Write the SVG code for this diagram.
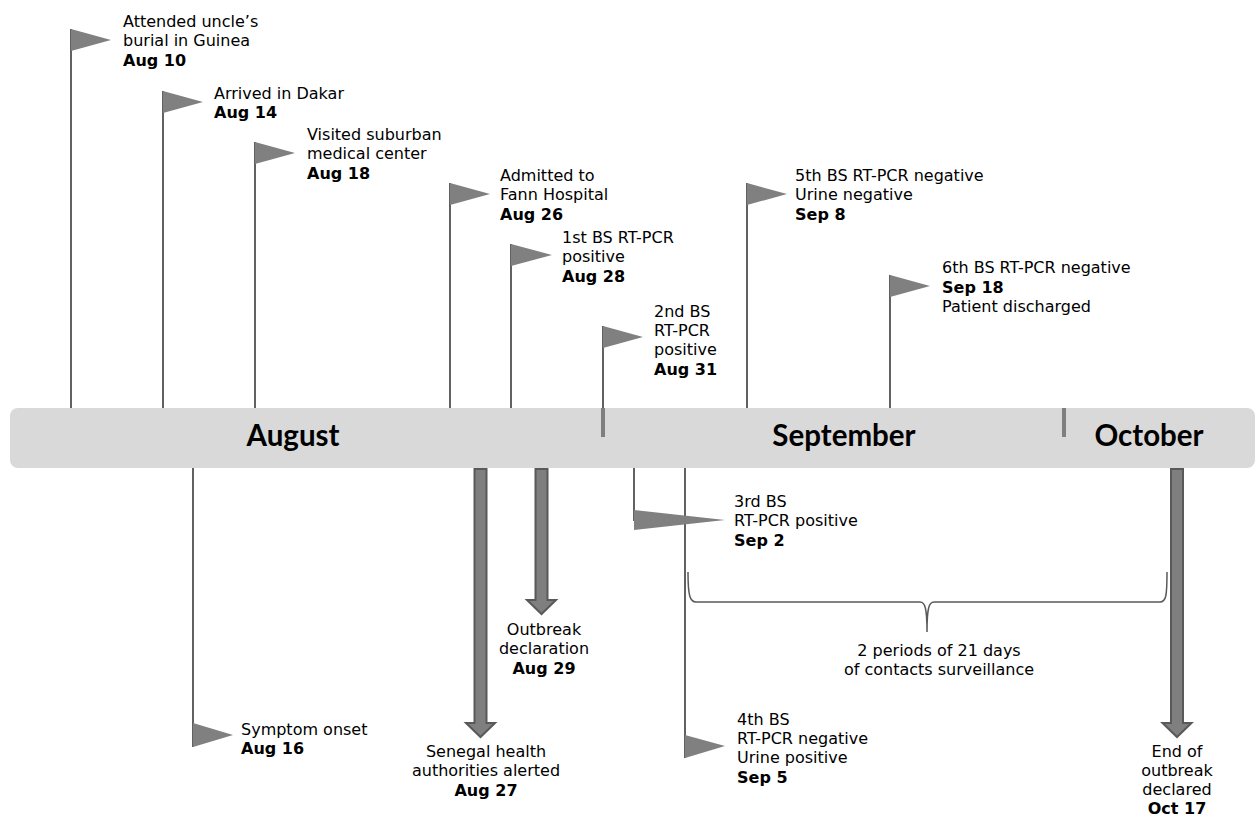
<svg xmlns="http://www.w3.org/2000/svg" width="1257" height="817" viewBox="0 0 1257 817">
<style>
.t{font-family:"DejaVu Sans",Verdana,sans-serif;font-size:16px;fill:#000}
.b{font-weight:bold}
.m{font-family:Lato,"Open Sans",sans-serif;font-size:29.5px;font-weight:bold;fill:#000;text-anchor:middle}
.pole{stroke:#3a3a3a;stroke-width:1.6;fill:none}
.flag{fill:#808080}
.tick{stroke:#7f7f7f;stroke-width:4}
.arr{fill:#7f7f7f;stroke:#595959;stroke-width:2}
.brace{fill:none;stroke:#595959;stroke-width:1.5}
.c{text-anchor:middle}
</style>
<rect id="timeline" x="10" y="408" width="1245" height="60" rx="8" fill="#d9d9d9"/>
<g id="months">
<text class="m" x="293" y="446">August</text>
<text class="m" x="844" y="446">September</text>
<text class="m" x="1149" y="446">October</text>
<line class="tick" x1="603" y1="408" x2="603" y2="437"/>
<line class="tick" x1="1064" y1="408" x2="1064" y2="437"/>
</g>
<g id="connectors">
<line class="pole" x1="71" y1="29" x2="71" y2="408"/>
<line class="pole" x1="163" y1="91" x2="163" y2="408"/>
<line class="pole" x1="255" y1="142" x2="255" y2="408"/>
<line class="pole" x1="450" y1="183" x2="450" y2="408"/>
<line class="pole" x1="511" y1="244" x2="511" y2="408"/>
<line class="pole" x1="603" y1="326" x2="603" y2="408"/>
<line class="pole" x1="747" y1="183" x2="747" y2="408"/>
<line class="pole" x1="890" y1="275" x2="890" y2="408"/>
<line class="pole" x1="193" y1="468" x2="193" y2="747"/>
<line class="pole" x1="634" y1="468" x2="634" y2="521"/>
<line class="pole" x1="685" y1="468" x2="685" y2="758"/>
<path class="arr" d="M474.5,469 H486.5 V723 H495 L480.5,737 L466,723 H474.5 Z"/>
<path class="arr" d="M535.5,469 H547.5 V600 H556 L541.5,614 L527,600 H535.5 Z"/>
<path class="arr" d="M1171,469 H1183 V723 H1191.5 L1177,737 L1162.5,723 H1171 Z"/>
<path class="brace" d="M688,572 C688,596 690,602 696,602 H920 C925,602 927,608 927,632 C927,608 929,602 934,602 H1160 C1166,602 1167,596 1167,572"/>
</g>
<g id="aug10">
<polygon class="flag" points="71,29 111,40 71,51"/>
<text class="t" x="123" y="27">Attended uncle’s</text>
<text class="t" x="123" y="46">burial in Guinea</text>
<text class="t b" x="123" y="66">Aug 10</text>
</g>
<g id="aug14">
<polygon class="flag" points="163,91 203,102 163,113"/>
<text class="t" x="214" y="99">Arrived in Dakar</text>
<text class="t b" x="214" y="118">Aug 14</text>
</g>
<g id="aug18">
<polygon class="flag" points="255,142 295,153 255,164"/>
<text class="t" x="307" y="140">Visited suburban</text>
<text class="t" x="307" y="159">medical center</text>
<text class="t b" x="307" y="179">Aug 18</text>
</g>
<g id="aug26">
<polygon class="flag" points="450,183 490,194 450,205"/>
<text class="t" x="500" y="181">Admitted to</text>
<text class="t" x="500" y="200">Fann Hospital</text>
<text class="t b" x="500" y="220">Aug 26</text>
</g>
<g id="aug28">
<polygon class="flag" points="511,244 552,255 511,266"/>
<text class="t" x="562" y="243">1st BS RT-PCR</text>
<text class="t" x="562" y="262">positive</text>
<text class="t b" x="562" y="282">Aug 28</text>
</g>
<g id="aug31">
<polygon class="flag" points="603,326 643,337 603,348"/>
<text class="t" x="654" y="317">2nd BS</text>
<text class="t" x="654" y="336">RT-PCR</text>
<text class="t" x="654" y="355">positive</text>
<text class="t b" x="654" y="375">Aug 31</text>
</g>
<g id="sep8">
<polygon class="flag" points="747,183 787,194 747,205"/>
<text class="t" x="795" y="181">5th BS RT-PCR negative</text>
<text class="t" x="795" y="200">Urine negative</text>
<text class="t b" x="795" y="220">Sep 8</text>
</g>
<g id="sep18">
<polygon class="flag" points="890,275 930,286 890,297"/>
<text class="t" x="942" y="273">6th BS RT-PCR negative</text>
<text class="t b" x="942" y="293">Sep 18</text>
<text class="t" x="942" y="312">Patient discharged</text>
</g>
<g id="aug16">
<polygon class="flag" points="193,723 233,735 193,747"/>
<text class="t" x="241" y="735">Symptom onset</text>
<text class="t b" x="241" y="754">Aug 16</text>
</g>
<g id="sep2">
<polygon class="flag" points="634,510 725,520 634,530"/>
<text class="t" x="734" y="507">3rd BS</text>
<text class="t" x="734" y="526">RT-PCR positive</text>
<text class="t b" x="734" y="546">Sep 2</text>
</g>
<g id="sep5">
<polygon class="flag" points="685,735 725,746 685,758"/>
<text class="t" x="737" y="725">4th BS</text>
<text class="t" x="737" y="744">RT-PCR negative</text>
<text class="t" x="737" y="763">Urine positive</text>
<text class="t b" x="737" y="783">Sep 5</text>
</g>
<g id="aug27">
<text class="t c" x="486" y="757">Senegal health</text>
<text class="t c" x="486" y="776">authorities alerted</text>
<text class="t b c" x="486" y="796">Aug 27</text>
</g>
<g id="aug29">
<text class="t c" x="544" y="635">Outbreak</text>
<text class="t c" x="544" y="654">declaration</text>
<text class="t b c" x="544" y="674">Aug 29</text>
</g>
<g id="oct17">
<text class="t c" x="1177" y="757">End of</text>
<text class="t c" x="1177" y="776">outbreak</text>
<text class="t c" x="1177" y="795">declared</text>
<text class="t b c" x="1177" y="814">Oct 17</text>
</g>
<g id="surveillance">
<text class="t c" x="939" y="656">2 periods of 21 days</text>
<text class="t c" x="939" y="675">of contacts surveillance</text>
</g>
</svg>
